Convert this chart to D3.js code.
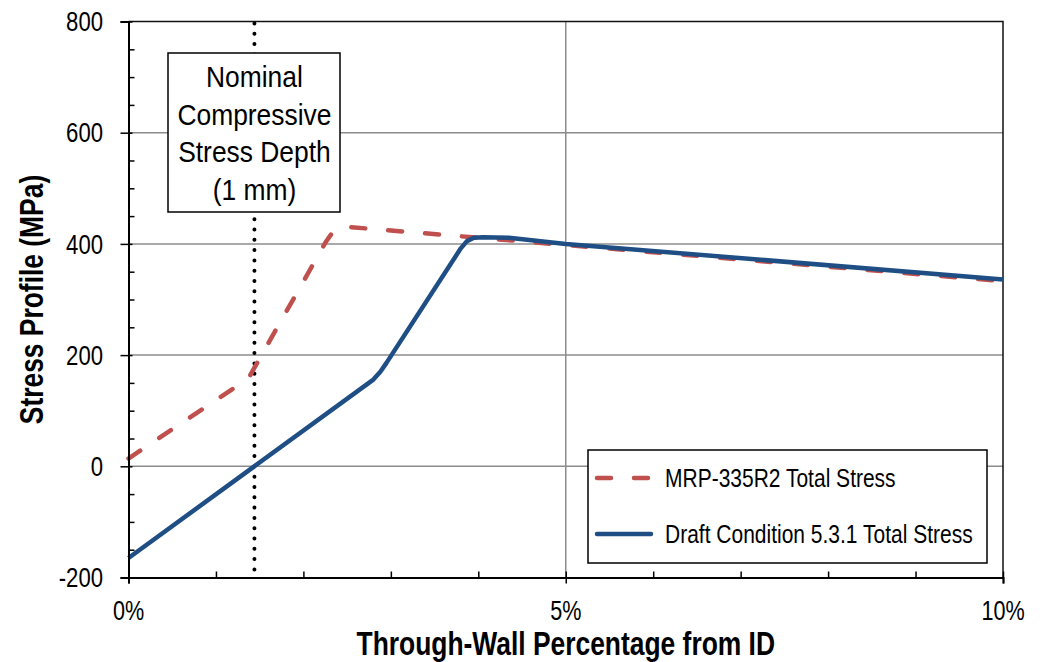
<!DOCTYPE html>
<html>
<head>
<meta charset="utf-8">
<script src="https://cdn.jsdelivr.net/npm/d3@7"></script>
<style>
  body { margin: 0; background: #fff; }
  svg { display: block; font-family: "Liberation Sans", Arial, sans-serif; }
</style>
</head>
<body>
<svg id="chart" width="1044" height="662"></svg>
<script>
// through-wall percentage (%) and stress (MPa)
const mrpX = [0, 1.37, 1.40, 1.45, 2.25, 2.33, 2.40, 2.47, 10];
const mrpY = [14, 158, 166, 180, 402, 420, 428, 431, 333];

const draftX = [0, 2.8, 2.88, 2.95, 3.8, 3.87, 3.95, 4.05, 4.35, 5, 10];
const draftY = [-165, 156, 170, 186, 392, 405, 411, 412, 411, 400, 336];

const seriesNames = ['MRP-335R2 Total Stress', 'Draft Condition 5.3.1 Total Stress'];

const xTicks = [0, 5, 10];
const xTickLabels = ['0%', '5%', '10%'];
const xMinorTicks = [1, 2, 3, 4, 6, 7, 8, 9];
const yTicks = [-200, 0, 200, 400, 600, 800];
const yMinorTicks = [-150, -100, -50, 50, 100, 150, 250, 300, 350, 450, 500, 550, 650, 700, 750];

const depthLine = 1.44; // nominal compressive stress depth, 1 mm
const noteLines = ['Nominal', 'Compressive', 'Stress Depth', '(1 mm)'];

const svg = d3.select('#chart');

const x = d3.scaleLinear().domain([0, 10]).range([128.5, 1003]);
const y = d3.scaleLinear().domain([-200, 800]).range([577.5, 21.5]);

// gridlines
svg.append('g')
    .selectAll('line')
    .data(yTicks.filter(d => d > -200 && d < 800))
    .enter()
    .append('line')
    .attr('x1', x(0)).attr('x2', x(10))
    .attr('y1', d => y(d)).attr('y2', d => y(d))
    .attr('stroke', '#8c8c8c')
    .attr('stroke-width', 1.5);

svg.append('line')
    .attr('x1', x(5)).attr('x2', x(5))
    .attr('y1', y(-200)).attr('y2', y(800))
    .attr('stroke', '#8c8c8c')
    .attr('stroke-width', 1.5);

// top and right border
svg.append('path')
    .attr('d', `M${x(0)},${y(800)}H${x(10)}V${y(-200)}`)
    .attr('fill', 'none')
    .attr('stroke', '#111')
    .attr('stroke-width', 1.5);

// dotted depth line
svg.append('line')
    .attr('x1', x(depthLine)).attr('x2', x(depthLine))
    .attr('y1', y(800) + 2).attr('y2', y(-200))
    .attr('stroke', '#000')
    .attr('stroke-width', 4)
    .attr('stroke-linecap', 'round')
    .attr('stroke-dasharray', '0 10.3');

// series
const line = d3.line()
    .x(d => x(d[0]))
    .y(d => y(d[1]));

svg.append('path')
    .datum(mrpX.map((v, i) => [v, mrpY[i]]))
    .attr('d', line)
    .attr('fill', 'none')
    .attr('stroke', '#c0504d')
    .attr('stroke-width', 4.5)
    .attr('stroke-linecap', 'round')
    .attr('stroke-linejoin', 'round')
    .attr('stroke-dasharray', '14 23');

svg.append('path')
    .datum(draftX.map((v, i) => [v, draftY[i]]))
    .attr('d', line)
    .attr('fill', 'none')
    .attr('stroke', '#1f4e85')
    .attr('stroke-width', 4.5)
    .attr('stroke-linejoin', 'round');

// axes
const yAxis = svg.append('g')
    .attr('transform', `translate(${x(0)},0)`)
    .call(d3.axisLeft(y).tickValues(yTicks).tickSize(8).tickFormat(''));
yAxis.select('.domain').attr('stroke-width', 2);
yAxis.selectAll('.tick line').attr('stroke-width', 1.5).attr('x2', -8).attr('x1', 4);

svg.append('g')
    .attr('transform', `translate(${x(0)},0)`)
    .call(d3.axisRight(y).tickValues(yMinorTicks).tickSize(6).tickFormat(''))
    .call(g => g.select('.domain').remove())
    .selectAll('.tick line').attr('stroke-width', 1.5);

const xAxis = svg.append('g')
    .attr('transform', `translate(0,${y(-200)})`)
    .call(d3.axisBottom(x).tickValues(xTicks).tickSize(6).tickFormat(''));
xAxis.select('.domain').attr('stroke-width', 2);
xAxis.selectAll('.tick line').attr('stroke-width', 1.5).attr('y1', -6);

svg.append('g')
    .attr('transform', `translate(0,${y(-200)})`)
    .call(d3.axisTop(x).tickValues(xMinorTicks).tickSize(6).tickFormat(''))
    .call(g => g.select('.domain').remove())
    .selectAll('.tick line').attr('stroke-width', 1.5);

// tick labels (narrow face, so squeeze horizontally)
svg.append('g')
    .selectAll('text')
    .data(yTicks)
    .enter()
    .append('text')
    .attr('transform', d => `translate(103,${y(d)}) scale(0.82,1)`)
    .attr('dy', '0.36em')
    .attr('text-anchor', 'end')
    .attr('font-size', 27)
    .text(d => d);

svg.append('g')
    .selectAll('text')
    .data(xTicks)
    .enter()
    .append('text')
    .attr('transform', d => `translate(${x(d)},620) scale(0.8,1)`)
    .attr('text-anchor', 'middle')
    .attr('font-size', 27)
    .text((d, i) => xTickLabels[i]);

// axis titles
svg.append('text')
    .attr('transform', `translate(${x(5)},655) scale(0.8,1)`)
    .attr('text-anchor', 'middle')
    .attr('font-size', 33)
    .attr('font-weight', 'bold')
    .text('Through-Wall Percentage from ID');

svg.append('text')
    .attr('transform', `translate(43,${y(300)}) rotate(-90) scale(0.8,1)`)
    .attr('text-anchor', 'middle')
    .attr('font-size', 33)
    .attr('font-weight', 'bold')
    .text('Stress Profile (MPa)');

// note box
const note = svg.append('g');
note.append('rect')
    .attr('x', 168).attr('y', 53)
    .attr('width', 172).attr('height', 159)
    .attr('fill', '#fff')
    .attr('stroke', '#000')
    .attr('stroke-width', 1.5);

note.selectAll('text')
    .data(noteLines)
    .enter()
    .append('text')
    .attr('transform', (d, i) => `translate(${x(depthLine)},${87 + i * 37.7}) scale(0.88,1)`)
    .attr('text-anchor', 'middle')
    .attr('font-size', 30)
    .text(d => d);

// legend
const legend = svg.append('g');
legend.append('rect')
    .attr('x', 588).attr('y', 450)
    .attr('width', 399).attr('height', 113)
    .attr('fill', '#fff')
    .attr('stroke', '#000')
    .attr('stroke-width', 1.5);

const legendStyles = [
    {color: '#c0504d', dash: '14 23', ly: 478},
    {color: '#1f4e85', dash: null, ly: 534}
];

legendStyles.forEach((s, i) => {
    legend.append('line')
        .attr('x1', 597).attr('x2', 651)
        .attr('y1', s.ly).attr('y2', s.ly)
        .attr('stroke', s.color)
        .attr('stroke-width', 4.5)
        .attr('stroke-linecap', 'round')
        .attr('stroke-dasharray', s.dash);
    legend.append('text')
        .attr('transform', `translate(665,${s.ly + 9}) scale(0.84,1)`)
        .attr('font-size', 25)
        .text(seriesNames[i]);
});
</script>
</body>
</html>
